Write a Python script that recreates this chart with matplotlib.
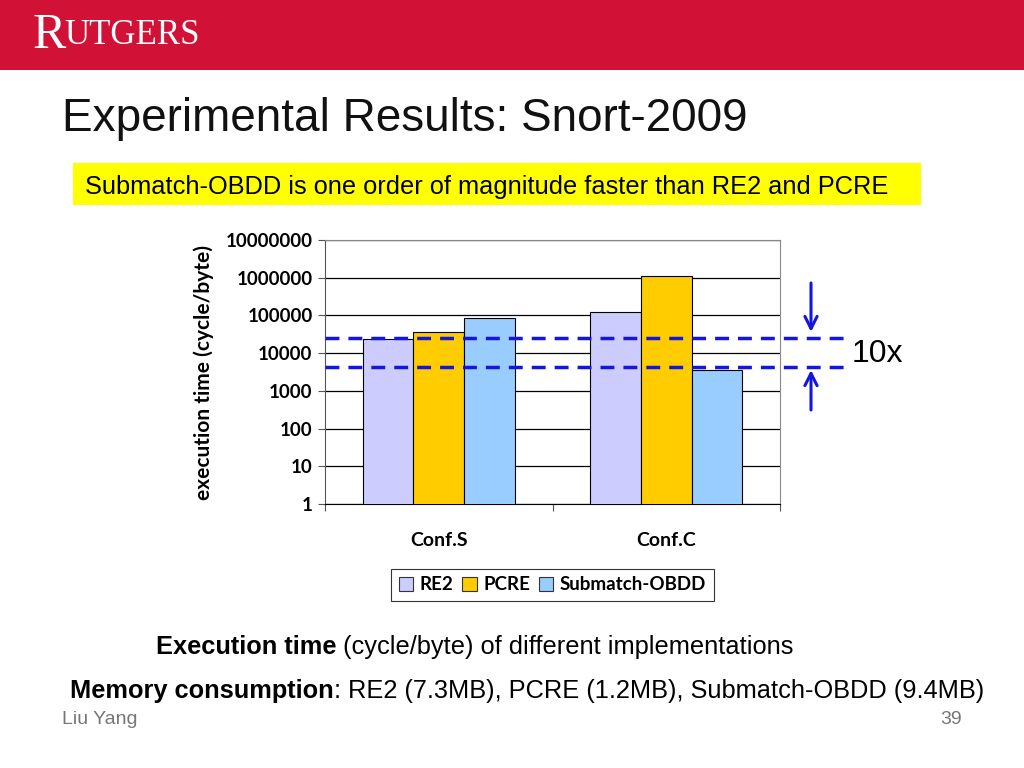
"""
Experimental Results: Snort-2009 - tiempos de ejecucion en escala log
"""

import matplotlib.pyplot as plt
from matplotlib.patches import Rectangle
from matplotlib.transforms import blended_transform_factory

configs = ["Conf.S", "Conf.C"]
series = ["RE2", "PCRE", "Submatch-OBDD"]
re2 = [23500, 123000]
pcre = [37000, 1100000]
submatch = [86000, 3600]
colors = ["#CCCCFF", "#FFCC00", "#99CCFF"]
y_ticks = [1, 10, 100, 1000, 10000, 100000, 1000000, 10000000]
band = [25000, 4300]  # lineas discontinuas "10x"

W, H = 1024, 768


def fx(px):
    return px / W


def fy(py):
    return 1 - py / H


def main():
    fig = plt.figure(figsize=(10.24, 7.68), dpi=100)
    fig.patch.set_facecolor("white")

    # cabecera roja
    fig.patches.append(Rectangle((0, fy(70)), 1, 70 / H, transform=fig.transFigure,
                                 facecolor="#D11236", edgecolor="none", zorder=0))
    fig.text(fx(33), fy(36), "R", color="white", family="Liberation Serif",
             fontsize=36, va="center", ha="left")
    fig.text(fx(64), fy(35), "UTGERS", color="white", family="Liberation Serif",
             fontsize=25, va="center", ha="left")

    sans = "Liberation Sans"
    fig.text(fx(62), fy(119), "Experimental Results: Snort-2009", family=sans,
             fontsize=33, va="center", ha="left", color="#111111")

    # caja amarilla
    fig.patches.append(Rectangle((fx(73), fy(205)), (921 - 73) / W, 42 / H,
                                 transform=fig.transFigure, facecolor="#FFFF00",
                                 edgecolor="none", zorder=0))
    fig.text(fx(85), fy(187), "Submatch-OBDD is one order of magnitude faster than RE2 and PCRE",
             family=sans, fontsize=18.3, va="center", ha="left")

    # grafico
    chart_font = "Lato"
    ax = fig.add_axes([fx(325), fy(504), (780 - 325) / W, (504 - 240) / H])
    ax.set_yscale("log")
    ax.set_ylim(1, 10000000)
    ax.set_xlim(-0.5, 1.5)
    width = 0.222
    data = [re2, pcre, submatch]
    for i, (name, vals, c) in enumerate(zip(series, data, colors)):
        xs = [k + (i - 1) * width for k in range(len(configs))]
        ax.bar(xs, vals, width=width, color=c, edgecolor="black", linewidth=0.8,
               label=name, zorder=3)
    ax.set_yticks(y_ticks)
    ax.set_yticklabels([str(v) for v in y_ticks], family=chart_font,
                       fontweight="bold", fontsize=13.5)
    ax.minorticks_off()
    ax.set_xticks(range(len(configs)))
    ax.set_xticklabels(configs, family=chart_font, fontweight="bold", fontsize=14)
    ax.tick_params(axis="x", length=0, pad=20)
    ax.set_xticks([-0.5, 0.5, 1.5], minor=True)
    ax.tick_params(axis="x", which="minor", length=5, direction="out", width=0.8,
                   color="#555555")
    ax.tick_params(axis="y", length=5, width=0.8, pad=4, color="#555555")
    ax.yaxis.grid(True, color="black", linewidth=0.9, zorder=0)
    ax.set_axisbelow(True)
    for s in ["top", "right"]:
        ax.spines[s].set_color("#888888")
        ax.spines[s].set_linewidth(0.8)
    ax.spines["left"].set_color("#555555")
    ax.spines["bottom"].set_color("black")
    ax.set_ylabel("execution time (cycle/byte)", family=chart_font,
                  fontweight="bold", fontsize=15, labelpad=8)

    leg = ax.legend(loc="upper center", bbox_to_anchor=(0.5, -0.245), ncol=3,
                    prop={"family": chart_font, "weight": "bold", "size": 13.5},
                    frameon=True, fancybox=False, edgecolor="black",
                    handlelength=0.75, handleheight=0.75, handletextpad=0.35,
                    columnspacing=0.5, borderpad=0.4, borderaxespad=0)
    leg.get_frame().set_linewidth(0.8)
    for h in leg.legend_handles:
        h.set_edgecolor("#333333")

    # lineas discontinuas y flechas
    tr = blended_transform_factory(ax.transAxes, ax.transData)
    x_end = (845 - 325) / 455
    for v in band:
        ax.plot([0, x_end], [v, v], transform=tr, color="#1515E0", linewidth=2.5,
                linestyle=(0, (4, 2.6)), clip_on=False, zorder=4)
    ax.annotate("", xy=(fx(811), fy(332)), xytext=(fx(811), fy(283)),
                xycoords="figure fraction", textcoords="figure fraction",
                arrowprops=dict(arrowstyle="->", color="#1515E0", lw=2.2,
                                mutation_scale=22, shrinkA=0, shrinkB=0))
    ax.annotate("", xy=(fx(811), fy(370)), xytext=(fx(811), fy(410)),
                xycoords="figure fraction", textcoords="figure fraction",
                arrowprops=dict(arrowstyle="->", color="#1515E0", lw=2.2,
                                mutation_scale=22, shrinkA=0, shrinkB=0))
    fig.text(fx(852), fy(354), "10x", family=sans, fontsize=23, va="center", ha="left")

    # textos inferiores
    t1 = fig.text(fx(156), fy(647), "Execution time", family=sans, fontsize=18.3,
                  fontweight="bold", va="center", ha="left")
    ax.annotate(" (cycle/byte) of different implementations", xy=(1, 0.5), xycoords=t1,
                family=sans, fontsize=18.3, va="center", ha="left")
    t2 = fig.text(fx(70), fy(691), "Memory consumption", family=sans, fontsize=18.3,
                  fontweight="bold", va="center", ha="left")
    ax.annotate(": RE2 (7.3MB), PCRE (1.2MB), Submatch-OBDD (9.4MB)", xy=(1, 0.5),
                xycoords=t2, family=sans, fontsize=18.3, va="center", ha="left")
    fig.text(fx(62), fy(719), "Liu Yang", family=sans, fontsize=14, color="#777777",
             va="center", ha="left")
    fig.text(fx(962), fy(719), "39", family=sans, fontsize=14, color="#777777",
             va="center", ha="right")

    fig.savefig("out.png", dpi=100)


if __name__ == "__main__":
    main()
